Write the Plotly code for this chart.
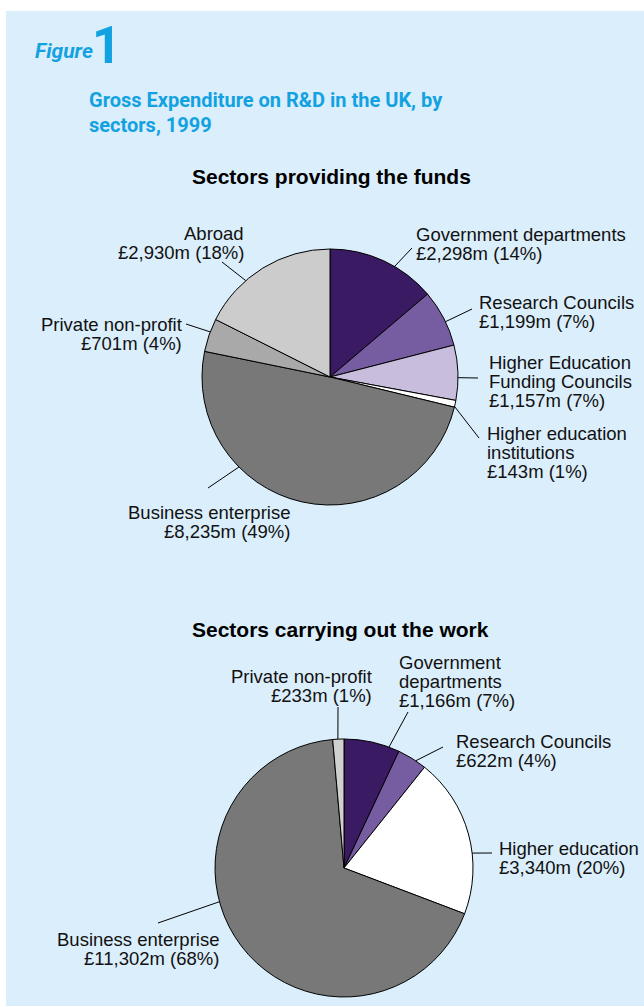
import math
import plotly.graph_objects as go

W, H = 644, 1007

# ---- data -------------------------------------------------------------
fund_sectors = ["Government departments", "Research Councils",
                "Higher Education Funding Councils", "Higher education institutions",
                "Business enterprise", "Private non-profit", "Abroad"]
fund_values = [2298, 1199, 1157, 143, 8235, 701, 2930]  # £m

work_sectors = ["Government departments", "Research Councils", "Higher education",
                "Business enterprise", "Private non-profit"]
work_values = [1166, 622, 3340, 11302, 233]  # £m

# label wording, split into the lines shown beside each slice
fund_label_lines = [["Government departments"], ["Research Councils"],
                    ["Higher Education", "Funding Councils"],
                    ["Higher education", "institutions"],
                    ["Business enterprise"], ["Private non-profit"], ["Abroad"]]
work_label_lines = [["Government", "departments"], ["Research Councils"],
                    ["Higher education"], ["Business enterprise"], ["Private non-profit"]]

# ---- styling ----------------------------------------------------------
fund_colors = ["#3a1a62", "#765ca0", "#c9bddd", "#ffffff", "#787878", "#a9a9a9", "#cccccc"]
work_colors = ["#3a1a62", "#765ca0", "#ffffff", "#787878", "#d0d0d0"]

PANEL = "#dbeefb"
TITLE_BLUE = "#12a2e2"
FONT = "Liberation Sans, Arial, Helvetica, sans-serif"
HEAD_FONT = "Roboto, Liberation Sans, Arial, sans-serif"
LABEL_SIZE = 18.5
LINE_GAP = 19

# pie geometry in pixels: centre x, centre y, radius
fund_geom = (330, 377, 128)
work_geom = (344, 868, 129)

# per-label layout: position along the slice for the leader line (0..1),
# outer end of the leader line (px), anchor of the first text line (px), alignment
fund_label_layout = [
    (0.61, (412, 248), (414, 234), "left"),
    (0.57, (472, 309), (477, 303), "left"),
    (0.59, (478, 378), (487, 363), "left"),
    (0.90, (479, 438), (485, 433), "left"),
    (0.684, (208, 488), (292, 512), "right"),
    (0.60, (186, 324), (184, 325), "right"),
    (0.35, (222, 262), (246, 233), "right"),
]
work_label_layout = [
    (0.81, (408, 712), (397, 662), "left"),
    (0.64, (443, 747), (454, 741), "left"),
    (0.62, (492, 853), (497, 848), "left"),
    (0.59, (158, 923), (221, 939), "right"),
    (0.46, (338, 707), (374, 676), "right"),
]


def px(x):
    return x / W


def py(y):
    return 1 - y / H


def domain(geom):
    cx, cy, r = geom
    return dict(x=[px(cx - r), px(cx + r)], y=[py(cy + r), py(cy - r)])


fig = go.Figure()
shapes = []
annotations = []

# light-blue panel behind everything
shapes.append(dict(type="rect", xref="paper", yref="paper",
                   x0=px(6), x1=1.0, y0=py(1006), y1=py(11),
                   fillcolor=PANEL, line=dict(width=0), layer="below"))


def add_pie(values, colors, geom, label_lines, label_layout):
    fig.add_trace(go.Pie(
        values=values, sort=False, direction="clockwise", rotation=0,
        marker=dict(colors=colors, line=dict(color="#000000", width=1)),
        textinfo="none", hoverinfo="skip", showlegend=False,
        domain=domain(geom)))
    cx, cy, r = geom
    total = sum(values)
    start = 0.0
    for v, lines, (frac, end, anchor, align) in zip(values, label_lines, label_layout):
        sweep = 360.0 * v / total
        ang = math.radians(start + frac * sweep)
        start += sweep
        ex, ey = cx + r * math.sin(ang), cy - r * math.cos(ang)
        shapes.append(dict(type="line", xref="paper", yref="paper",
                           x0=px(ex), y0=py(ey), x1=px(end[0]), y1=py(end[1]),
                           line=dict(color="#000000", width=1)))
        pct = round(100 * v / total)
        text_lines = lines + [f"£{v:,}m ({pct}%)"]
        for i, t in enumerate(text_lines):
            annotations.append(dict(
                text=t, xref="paper", yref="paper", showarrow=False,
                x=px(anchor[0]), y=py(anchor[1] + i * LINE_GAP),
                xanchor=align, yanchor="middle", align=align,
                font=dict(family=FONT, size=LABEL_SIZE, color="#111111")))


add_pie(fund_values, fund_colors, fund_geom, fund_label_lines, fund_label_layout)
add_pie(work_values, work_colors, work_geom, work_label_lines, work_label_layout)

# headings
headings = [
    dict(text="<b><i>Figure</i></b>", x=px(33), y=py(51), xanchor="left",
         font=dict(family=HEAD_FONT, size=21, color=TITLE_BLUE)),
    dict(text="<b>1</b>", x=px(90), y=py(46), xanchor="left",
         font=dict(family=HEAD_FONT, size=51, color=TITLE_BLUE)),
    dict(text="<b>Gross Expenditure on R&D in the UK, by</b>", x=px(87), y=py(100),
         xanchor="left", font=dict(family=HEAD_FONT, size=20, color=TITLE_BLUE)),
    dict(text="<b>sectors, 1999</b>", x=px(87), y=py(125),
         xanchor="left", font=dict(family=HEAD_FONT, size=20, color=TITLE_BLUE)),
    dict(text="<b>Sectors providing the funds</b>", x=px(331), y=py(176),
         xanchor="center", font=dict(family=FONT, size=21, color="#000000")),
    dict(text="<b>Sectors carrying out the work</b>", x=px(340), y=py(629),
         xanchor="center", font=dict(family=FONT, size=21, color="#000000")),
]
for a in headings:
    a.update(xref="paper", yref="paper", showarrow=False, yanchor="middle")
annotations += headings

fig.update_layout(
    width=W, height=H, margin=dict(l=0, r=0, t=0, b=0),
    paper_bgcolor="#ffffff", plot_bgcolor="#ffffff",
    shapes=shapes, annotations=annotations, showlegend=False)

fig.write_html("out.html")
